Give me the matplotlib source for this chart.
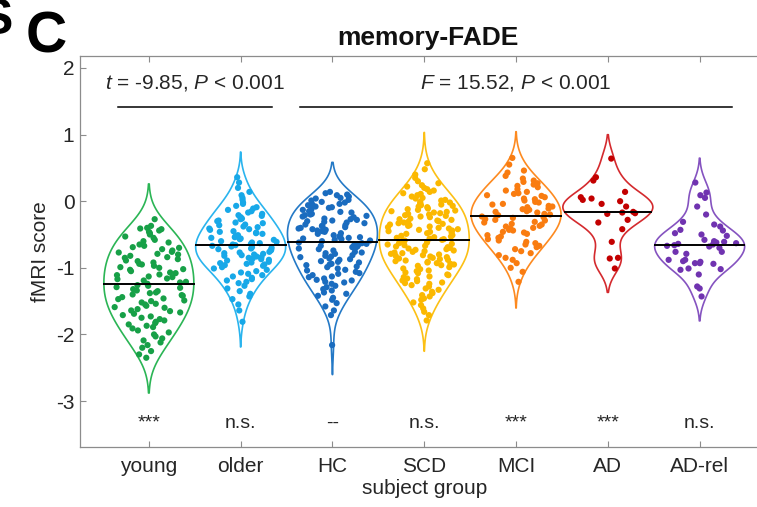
import numpy as np
import matplotlib
matplotlib.use('Agg')
import matplotlib.pyplot as plt

plt.rcParams['font.family'] = ['Liberation Sans', 'DejaVu Sans']
plt.rcParams['mathtext.fontset'] = 'custom'
plt.rcParams['mathtext.rm'] = 'Liberation Sans'
plt.rcParams['mathtext.it'] = 'Liberation Sans:italic'
plt.rcParams['axes.unicode_minus'] = False

groups = ['young', 'older', 'HC', 'SCD', 'MCI', 'AD', 'AD-rel']
marks = ['***', 'n.s.', '--', 'n.s.', '***', '***', 'n.s.']

young = [-0.27, -0.37, -0.40, -0.41, -0.42,
         -0.44, -0.46, -0.48, -0.50, -0.53, -0.55, -0.58, -0.60, -0.62, -0.65, -0.67,
         -0.69, -0.70, -0.72, -0.74, -0.76, -0.77, -0.79, -0.80, -0.82, -0.84, -0.85,
         -0.87, -0.89, -0.90, -0.92,
         -0.94, -0.95, -0.97, -0.99, -1.00, -1.02, -1.03, -1.05, -1.07, -1.08, -1.10,
         -1.11, -1.13, -1.14, -1.16, -1.17,
         -1.19, -1.21, -1.22, -1.24, -1.26, -1.27, -1.29, -1.30, -1.32, -1.34, -1.35,
         -1.37, -1.38, -1.40, -1.41, -1.42,
         -1.44, -1.46, -1.47, -1.49, -1.50, -1.52, -1.54, -1.55, -1.57, -1.59, -1.60,
         -1.62, -1.64, -1.65, -1.67,
         -1.69, -1.71, -1.73, -1.75, -1.77, -1.79, -1.81, -1.83, -1.85, -1.87, -1.89, -1.91,
         -1.94, -1.97, -2.00, -2.03, -2.06, -2.09, -2.12, -2.16,
         -2.20, -2.25, -2.30, -2.35]

older = [0.36, 0.28,
         0.20, 0.14, 0.09, 0.05, 0.02,
         -0.02, -0.04, -0.07, -0.09, -0.11, -0.13, -0.15, -0.17, -0.19, -0.21, -0.22, -0.24,
         -0.26, -0.27, -0.29, -0.30, -0.32, -0.33, -0.35, -0.36, -0.38, -0.39, -0.41, -0.42,
         -0.43, -0.45, -0.46, -0.47, -0.48, -0.49,
         -0.51, -0.52, -0.53, -0.54, -0.55, -0.56, -0.57, -0.58, -0.60, -0.61, -0.62, -0.63,
         -0.64, -0.65, -0.66, -0.67, -0.68, -0.69, -0.70, -0.71, -0.72, -0.73, -0.74,
         -0.76, -0.77, -0.78, -0.79, -0.80, -0.81, -0.82, -0.83, -0.84, -0.85, -0.86, -0.87,
         -0.88, -0.89, -0.91, -0.92, -0.93, -0.94, -0.95, -0.96, -0.97, -0.99,
         -1.01, -1.03, -1.05, -1.07, -1.09, -1.11, -1.13, -1.15, -1.17, -1.19, -1.21, -1.23,
         -1.27, -1.31, -1.35, -1.39, -1.43, -1.47,
         -1.55, -1.64, -1.81]

hc = [0.14, 0.12, 0.10, 0.09, 0.07, 0.05, 0.04, 0.02, 0.01,
      -0.01, -0.02, -0.04, -0.05, -0.06, -0.08, -0.09, -0.10, -0.12, -0.13, -0.15, -0.16,
      -0.17, -0.19, -0.20, -0.21, -0.22, -0.23, -0.24,
      -0.26, -0.27, -0.28, -0.29, -0.30, -0.31, -0.32, -0.33, -0.35, -0.36, -0.37, -0.38,
      -0.39, -0.40, -0.41, -0.42, -0.43, -0.44, -0.45, -0.46, -0.48, -0.49,
      -0.51, -0.52, -0.53, -0.54, -0.55, -0.56, -0.57, -0.58, -0.59, -0.60, -0.62, -0.63,
      -0.64, -0.65, -0.66, -0.67, -0.68, -0.69, -0.70, -0.71, -0.72, -0.74,
      -0.76, -0.77, -0.78, -0.79, -0.81, -0.82, -0.83, -0.84, -0.86, -0.87, -0.88, -0.90,
      -0.91, -0.92, -0.94, -0.95, -0.96, -0.98, -0.99,
      -1.01, -1.03, -1.04, -1.06, -1.08, -1.09, -1.11, -1.13, -1.14, -1.16, -1.18, -1.19,
      -1.21, -1.22, -1.24,
      -1.27, -1.29, -1.32, -1.34, -1.37, -1.39, -1.42, -1.45, -1.48,
      -1.53, -1.58, -1.64, -1.71,
      -2.16]

scd = [0.57, 0.48, 0.40, 0.35, 0.30, 0.27,
       0.24, 0.22, 0.20, 0.18, 0.16, 0.14, 0.12, 0.11, 0.09, 0.07, 0.05, 0.04, 0.02, 0.01,
       -0.01, -0.02, -0.03, -0.05, -0.06, -0.07, -0.08, -0.09, -0.11, -0.12, -0.13, -0.14,
       -0.15, -0.16, -0.17, -0.18, -0.19, -0.20, -0.21, -0.22, -0.23, -0.24,
       -0.26, -0.27, -0.28, -0.29, -0.30, -0.31, -0.32, -0.33, -0.34, -0.35, -0.36, -0.37,
       -0.38, -0.39, -0.40, -0.41, -0.42, -0.43, -0.44, -0.45, -0.46, -0.47, -0.48, -0.49,
       -0.51, -0.52, -0.53, -0.54, -0.55, -0.56, -0.57, -0.58, -0.59, -0.60, -0.61, -0.62,
       -0.63, -0.64, -0.65, -0.66, -0.67, -0.68, -0.69, -0.70, -0.71, -0.72, -0.73, -0.74,
       -0.75,
       -0.76, -0.77, -0.78, -0.79, -0.80, -0.81, -0.82, -0.83, -0.84, -0.85, -0.86, -0.87,
       -0.88, -0.89, -0.90, -0.91, -0.92, -0.93, -0.94, -0.95, -0.96, -0.97, -0.99,
       -1.01, -1.02, -1.04, -1.05, -1.07, -1.08, -1.10, -1.11, -1.13, -1.14, -1.16, -1.17,
       -1.19, -1.20, -1.22, -1.23, -1.24,
       -1.26, -1.28, -1.31, -1.33, -1.36, -1.38, -1.41, -1.43, -1.46, -1.48,
       -1.52, -1.56, -1.61, -1.66, -1.71, -1.79]

mci = [0.65, 0.55,
       0.46, 0.43, 0.38, 0.34, 0.31,
       0.29, 0.27, 0.25, 0.23, 0.21, 0.18, 0.16, 0.14, 0.12, 0.11,
       0.09, 0.08, 0.06, 0.04, 0.03, 0.01, -0.01, -0.02, -0.04, -0.05, -0.07, -0.08, -0.09,
       -0.11, -0.12, -0.13, -0.15, -0.16, -0.17, -0.19, -0.20, -0.21, -0.23, -0.24, -0.25,
       -0.27, -0.28, -0.29,
       -0.31, -0.32, -0.34, -0.35, -0.37, -0.38, -0.40, -0.41, -0.43, -0.44, -0.46, -0.47,
       -0.49,
       -0.51, -0.53, -0.55, -0.57, -0.59, -0.61, -0.63, -0.65, -0.67, -0.69,
       -0.72, -0.75, -0.78, -0.81, -0.85, -0.88,
       -0.93, -1.00, -1.06, -1.21]

ad = [0.64, 0.36, 0.31, 0.14, 0.06, 0.04, 0.02, 0.00, -0.04, -0.08, -0.16,
      -0.17, -0.18, -0.19, -0.28, -0.32, -0.42, -0.61, -0.85, -0.86, -1.01]

ad_rel = [0.28, 0.13, 0.09, 0.05, -0.08, -0.20, -0.31, -0.35, -0.38, -0.43, -0.44,
          -0.48, -0.50, -0.52, -0.58, -0.60, -0.61, -0.62, -0.63, -0.64, -0.65, -0.66,
          -0.67, -0.68, -0.70, -0.76, -0.76, -0.79, -0.88, -0.88, -0.90, -0.91, -0.93,
          -0.93, -0.94, -1.01, -1.02, -1.03, -1.10, -1.28, -1.31, -1.43]

data = [young, older, hc, scd, mci, ad, ad_rel]

edge_colors = ['#2bb555', '#2ab4ee', '#2479c6', '#fcc015', '#fd8a20', '#d42a2e', '#8553c0']
dot_colors = ['#17a047', '#17a8e8', '#1a6cbf', '#fbb800', '#f97c10', '#c30000', '#7033b0']


def kde(vals, grid):
    # gaussian kernel density, bandwidth from the median absolute deviation
    vals = np.asarray(vals)
    sig = np.median(np.abs(vals - np.median(vals))) / 0.6745
    bw = sig * (4.0 / (3 * len(vals))) ** 0.2
    d = np.exp(-0.5 * ((grid[:, None] - vals[None, :]) / bw) ** 2).sum(axis=1)
    return d, bw


fig = plt.figure(figsize=(7.57, 5.07), dpi=100)
ax = fig.add_axes([80 / 757, 60 / 507, 688.5 / 757, 391 / 507])

half_w = 0.49
stats = []
for i, vals in enumerate(data):
    vals = np.asarray(vals)
    _, bw = kde(vals, vals)
    lo, hi = vals.min() - 2.1 * bw, vals.max() + 2.1 * bw
    coords = np.linspace(lo, hi, 300)
    dens, _ = kde(vals, coords)
    stats.append(dict(coords=coords, vals=dens, mean=vals.mean(),
                      median=np.median(vals), min=lo, max=hi))

pos = np.arange(1, len(groups) + 1)
parts = ax.violin(stats, positions=pos, widths=2 * half_w,
                  showmeans=False, showextrema=False, showmedians=False)
for body, c in zip(parts['bodies'], edge_colors):
    body.set_facecolor('none')
    body.set_edgecolor(c)
    body.set_linewidth(1.2)
    body.set_alpha(1)

for i, vals in enumerate(data):
    vals = np.asarray(vals)
    st = stats[i]
    dmax = st['vals'].max()
    local, _ = kde(vals, vals)
    spread = half_w * local / dmax
    # repeatable hash-based horizontal jitter inside the violin outline
    k = np.arange(len(vals)) + 1.0
    u = (np.sin(k * 12.9898 + (i + 1) * 78.233) * 43758.5453) % 1.0
    xs = pos[i] + (2 * u - 1) * 0.85 * spread
    ax.scatter(xs, vals, s=20, color=dot_colors[i], edgecolors='none', zorder=3)
    med = st['median']
    wmed = half_w * np.interp(med, st['coords'], st['vals']) / dmax
    ax.plot([pos[i] - wmed, pos[i] + wmed], [med, med], color='black', lw=1.4, zorder=4)

# significance vs HC
for p, m in zip(pos, marks):
    ax.text(p, -3.40, m, ha='center', va='baseline', fontsize=14, color='#262626')

# group comparisons
ax.plot([0.66, 2.34], [1.42, 1.42], color='black', lw=1.1)
ax.plot([2.65, 7.35], [1.42, 1.42], color='black', lw=1.1)
ax.text(1.5, 1.78, r'$\mathit{t}$ = -9.85, $\mathit{P}$ < 0.001', ha='center', va='center',
        fontsize=15, color='#262626')
ax.text(5.0, 1.78, r'$\mathit{F}$ = 15.52, $\mathit{P}$ < 0.001', ha='center', va='center',
        fontsize=15, color='#262626')

ax.set_xlim(0.25, 7.75)
ax.set_ylim(-3.69, 2.18)
ax.set_xticks(pos)
ax.set_xticklabels(groups)
ax.set_yticks([-3, -2, -1, 0, 1, 2])
ax.tick_params(direction='in', top=True, right=True, length=4, width=0.8,
               color='#8c8c8c', labelsize=15, labelcolor='#262626')
ax.tick_params(axis='x', pad=7)
ax.tick_params(axis='y', pad=4)
for s in ax.spines.values():
    s.set_color('#8c8c8c')
    s.set_linewidth(0.9)
ax.set_xlabel('subject group', fontsize=15, color='#262626', labelpad=2)
ax.set_ylabel('fMRI score', fontsize=15, color='#262626', labelpad=4)

fig.text(428 / 757, 1 - 38 / 507, 'memory-FADE', ha='center', va='center',
         fontsize=19, fontweight='bold', color='#111111')
fig.text(46 / 757, 1 - 38 / 507, 'C', ha='center', va='center',
         fontsize=41, fontweight='bold', color='black')
fig.text(13 / 757, 1 - 21 / 507, 'S', ha='right', va='center',
         fontsize=36, fontweight='bold', color='black')

fig.savefig('out.png', dpi=100)
